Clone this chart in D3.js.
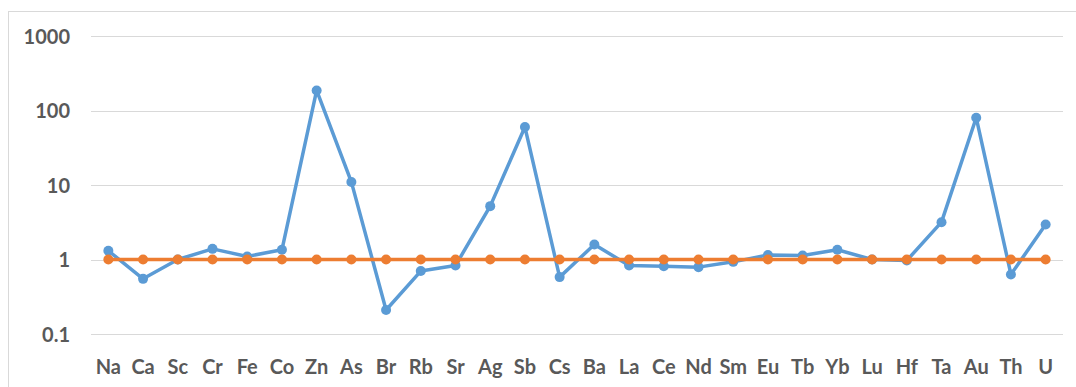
<!DOCTYPE html>
<html>
<head>
<meta charset="utf-8">
<script src="https://cdn.jsdelivr.net/npm/d3@7"></script>
<style>
  body { margin: 0; background: #fff; }
  svg text { font-family: Lato, "Open Sans", sans-serif; font-weight: bold; fill: #595959; }
</style>
</head>
<body>
<div id="chart"></div>
<script>
// element names along the x axis
const elements = ["Na", "Ca", "Sc", "Cr", "Fe", "Co", "Zn", "As", "Br", "Rb", "Sr", "Ag", "Sb", "Cs", "Ba",
  "La", "Ce", "Nd", "Sm", "Eu", "Tb", "Yb", "Lu", "Hf", "Ta", "Au", "Th", "U"];

// sample / reference ratios (blue series)
const sampleValues = [1.31, 0.55, 1.0, 1.39, 1.1, 1.35, 186, 11, 0.21, 0.70, 0.83, 5.2, 60, 0.58, 1.59,
  0.83, 0.81, 0.79, 0.93, 1.15, 1.13, 1.35, 1.0, 0.97, 3.17, 80, 0.63, 2.95];

// reference line (orange series)
const referenceValues = elements.map(() => 1);

const yTicks = [0.1, 1, 10, 100, 1000];

const W = 1076, H = 387;
const MARGIN = { TOP: 36, BOTTOM: 53, LEFT: 91, RIGHT: 13 };

const svg = d3.select("#chart")
  .append("svg")
  .attr("width", W)
  .attr("height", H);

// chart frame
svg.append("rect")
  .attr("x", 8.5).attr("y", 11.5)
  .attr("width", W).attr("height", H)
  .attr("fill", "none")
  .attr("stroke", "#d9d9d9");

const x = d3.scaleBand()
  .domain(elements)
  .range([MARGIN.LEFT, W - MARGIN.RIGHT]);

const y = d3.scaleLog()
  .domain([0.1, 1000])
  .range([H - MARGIN.BOTTOM, MARGIN.TOP]);

const cx = d => x(d) + x.bandwidth() / 2;

// gridlines
svg.append("g")
  .selectAll("line")
  .data(yTicks)
  .enter()
  .append("line")
    .attr("x1", MARGIN.LEFT)
    .attr("x2", W - MARGIN.RIGHT)
    .attr("y1", d => Math.round(y(d)) + 0.5)
    .attr("y2", d => Math.round(y(d)) + 0.5)
    .attr("stroke", "#d9d9d9")
    .attr("stroke-width", 1);

// y axis labels
const yAxis = d3.axisLeft(y)
  .tickValues(yTicks)
  .tickFormat(d => String(d))
  .tickSize(0)
  .tickPadding(0);

svg.append("g")
  .attr("transform", `translate(70,0)`)
  .call(yAxis)
  .call(g => g.select(".domain").remove())
  .call(g => g.selectAll("text").attr("font-size", 20).attr("dy", "0.35em"));

// x axis labels
const xAxis = d3.axisBottom(x).tickSize(0).tickPadding(0);

svg.append("g")
  .attr("transform", `translate(0,${H - MARGIN.BOTTOM + 33})`)
  .call(xAxis)
  .call(g => g.select(".domain").remove())
  .call(g => g.selectAll("text").attr("font-size", 20).attr("dy", "0.35em"));

function drawSeries(values, color) {
  const line = d3.line()
    .x((d, i) => cx(elements[i]))
    .y(d => y(d));

  svg.append("path")
    .datum(values)
    .attr("d", line)
    .attr("fill", "none")
    .attr("stroke", color)
    .attr("stroke-width", 3.5)
    .attr("stroke-linejoin", "round");

  svg.append("g")
    .selectAll("circle")
    .data(values)
    .enter()
    .append("circle")
      .attr("cx", (d, i) => cx(elements[i]))
      .attr("cy", d => y(d))
      .attr("r", 5)
      .attr("fill", color);
}

drawSeries(sampleValues, "#5b9bd5");
drawSeries(referenceValues, "#ed7d31");
</script>
</body>
</html>
